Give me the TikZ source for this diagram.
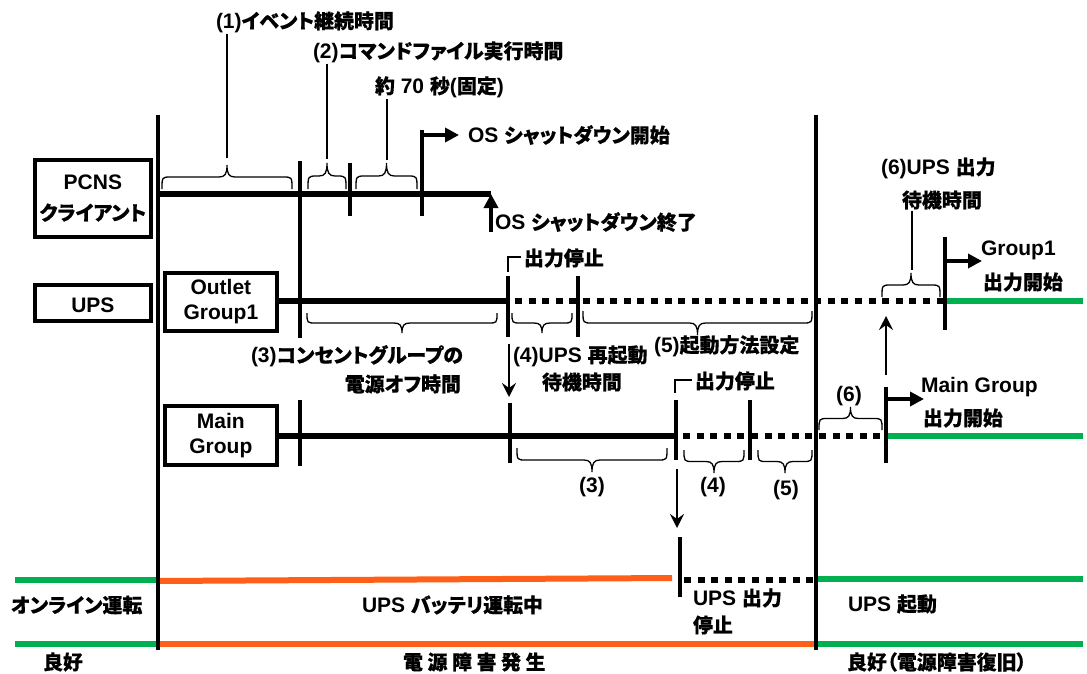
\documentclass[tikz,border=0pt]{standalone}
\usepackage{fontspec}
\setmainfont{Liberation Sans}
\newfontfamily\cjk{Noto Sans CJK JP}[RawFeature=+palt,Scale=0.95,BoldFeatures={FakeBold=0.35}]
\newcommand{\J}[1]{{\cjk #1}}
\usetikzlibrary{arrows.meta,calc}
\definecolor{okgreen}{HTML}{00B050}
\definecolor{battorange}{HTML}{FF5F17}
\tikzset{
  lab/.style={inner sep=0pt,outer sep=1pt,anchor=west,font=\fontsize{21}{24}\selectfont\bfseries,text=black},
  labc/.style={lab,anchor=center,align=center},
  boxn/.style={draw=black,line width=3.8pt,inner sep=0pt,font=\fontsize{21}{25}\selectfont\bfseries,align=center,anchor=north west},
  tick/.style={draw=black,line width=3.6pt},
  thin leader/.style={draw=black,line width=1.3pt},
  solidline/.style={draw=black,line width=6pt},
  dotline/.style={draw=black,line width=5.5pt,dash pattern=on 7pt off 6.6pt},
  greenline/.style={draw=okgreen,line width=5.5pt},
  orangeline/.style={draw=battorange,line width=6pt},
  bigarrow/.style={draw=black,line width=3.6pt,-{Triangle[length=14pt,width=14pt]}},
  smallarrow/.style={draw=black,line width=2pt,-{Stealth[length=14pt,width=14pt,inset=5pt]}},
  bracestyle/.style={draw=black,line width=1.3pt},
}
\newcommand{\curly}[3]{\draw[bracestyle] let \p1=(#1),\p2=(#2),\n1={(\x1+\x2)/2},\n2={\y1+(#3)*0.5},\n3={\y1+(#3)},\n4={\n2+(#3)*0.12} in
 (\x1,\y1) .. controls (\x1,\n2) .. (\x1+9pt,\n2) -- (\n1-8pt,\n2) .. controls (\n1-2pt,\n2) and (\n1,\n4) .. (\n1,\n3) .. controls (\n1,\n4) and (\n1+2pt,\n2) .. (\n1+8pt,\n2) -- (\x2-9pt,\n2) .. controls (\x2,\n2) .. (\x2,\y2);}
\begin{document}
\begin{tikzpicture}[x=1pt,y=-1pt]
\useasboundingbox (0,0) rectangle (1087,673);
\fill[white] (0,0) rectangle (1087,673);

% boxes
\node[boxn,minimum width=116pt,minimum height=77pt] (pcns) at (33,158) {PCNS\\[6pt]\J{クライアント}\rule[-2pt]{0pt}{2pt}};
\node[boxn,minimum width=116pt,minimum height=36pt] (ups) at (33,283) {\rule{0pt}{19pt}UPS};
\node[boxn,minimum width=112pt,minimum height=58pt] (outlet) at (163,271) {Outlet\\Group1\rule[-3pt]{0pt}{3pt}};
\node[boxn,minimum width=112pt,minimum height=59pt] (maing) at (163,404) {Main\\Group\rule[-3pt]{0pt}{3pt}};

% coordinates
\foreach \n/\x/\y in {
 mT/158/115, mB/158/650, rT/816/115, rB/816/650,
 a1T/300/161, a1B/300/338, a2T/350/163, a2B/350/216, a3T/422/130, a3B/422/216, a3A/459/135,
 pL/158/194, pR/491/194, osU/491/232,
 b1T/508/276, b1B/508/337, b2T/578/276, b2B/578/337, b3T/945/237, b3B/945/330, b3A/982/261, b3J/945/261,
 oM/508/301, oN/945/301, oE/1083/301,
 c1T/300/400, c1B/300/466, c2T/510/403, c2B/510/463, c3T/676/400, c3B/676/460, c4T/750/400, c4B/750/460,
 c5T/886/387, c5B/886/463, c5J/886/399, c5A/924/399,
 gM/676/436, gN/886/436, gE/1083/436,
 upA/886/375, upB/886/316, dnA/509/344, dnB/509/397, dnC/677/469, dnD/677/528,
 d1T/680/537, d1B/680/597,
 e1/508/272, e1c/508/257, e1e/521/257, e2/675/393, e2c/675/380, e2e/692/380,
 gL1/15/580, gL2/158/580, oA1/158/581, oA2/672/578, dS/684/580, dE/816/580, gR1/816/579, gR2/1083/579,
 gL3/15/644, gL4/158/644, oB2/816/644, gR3/1083/644,
 br1a/162/189, br1b/292/189, br2a/308/189, br2b/346/189, br3a/356/189, br3b/417/189,
 br4a/307/313, br4b/497/313, br5a/512/313, br5b/572/313, br6a/583/311, br6b/812/311,
 br7a/882/297, br7b/940/297, br8a/819/430, br8b/882/430,
 br9a/517/448, br9b/667/448, br10a/684/450, br10b/744/450, br11a/758/450, br11b/812/450,
 t1/227/158, t2/327/159, t3/387/160, t7/912/270%
}{\coordinate (\n) at (\x,\y);}

% timelines
\draw[solidline] (pL) -- (pR);
\draw[solidline] (outlet.east |- oM) -- (oM);
\draw[dotline] (oM) ++(7,0) -- (oN);
\draw[greenline] (oN) -- (oE);
\draw[solidline] (maing.east |- gM) -- (gM);
\draw[dotline] (gM) ++(7,0) -- (gN);
\draw[greenline] (gN) -- (gE);
\draw[greenline] (gL1) -- (gL2);
\draw[orangeline] (oA1) -- (oA2);
\draw[dotline] (dS) -- (dE);
\draw[greenline] (gR1) -- (gR2);
\draw[greenline] (gL3) -- (gL4);
\draw[orangeline] (gL4) -- (oB2);
\draw[greenline] (oB2) -- (gR3);

% verticals
\draw[tick] (mT) -- (mB);
\draw[tick] (rT) -- (rB);
\foreach \n in {a1,a2,a3,b1,b2,b3,c1,c2,c3,c4,c5,d1}{\draw[tick] (\n T) -- (\n B);}

% arrows
\draw[bigarrow] (a3T |- a3A) -- (a3A);
\draw[bigarrow] (osU) -- (pR);
\draw[bigarrow] (b3J) -- (b3A);
\draw[bigarrow] (c5J) -- (c5A);
\draw[smallarrow] (upA) -- (upB);
\draw[smallarrow] (dnA) -- (dnB);
\draw[smallarrow] (dnC) -- (dnD);
\draw[thin leader] (e1) -- (e1c) -- (e1e);
\draw[thin leader] (e2) -- (e2c) -- (e2e);

% braces (positive height: tip up)
\curly{br1a}{br1b}{24pt}
\curly{br2a}{br2b}{26pt}
\curly{br3a}{br3b}{26pt}
\curly{br4a}{br4b}{-20pt}
\curly{br5a}{br5b}{-20pt}
\curly{br6a}{br6b}{-24pt}
\curly{br7a}{br7b}{24pt}
\curly{br8a}{br8b}{23pt}
\curly{br9a}{br9b}{-24pt}
\curly{br10a}{br10b}{-23pt}
\curly{br11a}{br11b}{-23pt}

% labels
\node[lab] (l1) at (215,22) {(1)\J{イベント継続時間}};
\node[lab] (l2) at (312,52) {(2)\J{コマンドファイル実行時間}};
\node[lab] (l3) at (374,87) {\J{約} 70 \J{秒}(\J{固定})};
\node[lab] (osS) at (467,135) {OS \J{シャットダウン開始}};
\node[lab] (osE) at (494,222) {OS \J{シャットダウン終了}};
\node[lab] (stop1) at (523,258) {\J{出力停止}};
\node[lab] (stop2) at (694,381) {\J{出力停止}};
\node[lab] (l5) at (653,346) {(5)\J{起動方法設定}};
\node[lab] (l3a) at (250,356) {(3)\J{コンセントグループの}};
\node[lab,anchor=east] (l3b) at (462,384) {\J{電源オフ時間}};
\node[lab] (l4a) at (512,356) {(4)UPS \J{再起動}};
\node[lab] (l4b) at (541,382) {\J{待機時間}};
\node[labc] (s3) at (592,487) {(3)};
\node[labc] (s4) at (713,487) {(4)};
\node[labc] (s5) at (786,490) {(5)};
\node[labc] (s6) at (849,396) {(6)};
\node[lab] (l6a) at (880,168) {(6)UPS \J{出力}};
\node[lab] (l6b) at (901,200) {\J{待機時間}};
\node[lab] (g1a) at (980,250) {Group1};
\node[lab] (g1b) at (982,282) {\J{出力開始}};
\node[lab] (mga) at (920,387) {Main Group};
\node[lab] (mgb) at (922,418) {\J{出力開始}};
\node[lab] (st1) at (10,605) {\J{オンライン運転}};
\node[lab] (st2) at (361,605) {UPS \J{バッテリ運転中}};
\node[lab] (st3) at (692,598) {UPS \J{出力}};
\node[lab] (st4) at (692,625) {\J{停止}};
\node[lab] (st5) at (847,604) {UPS \J{起動}};
\node[labc] (p1) at (63,662) {\J{良好}};
\node[lab] (p2) at (402,662) {\J{電 源 障 害 発 生}};
\node[lab] (p3) at (846,662) {\J{良好（電源障害復旧）}};

% leaders
\draw[thin leader] (l1.south -| t1) -- (t1);
\draw[thin leader] (l2.south -| t2) -- (t2);
\draw[thin leader] (l3.south -| t3) -- (t3);
\draw[thin leader] (l6b.south -| t7) -- (t7);
\end{tikzpicture}
\end{document}
